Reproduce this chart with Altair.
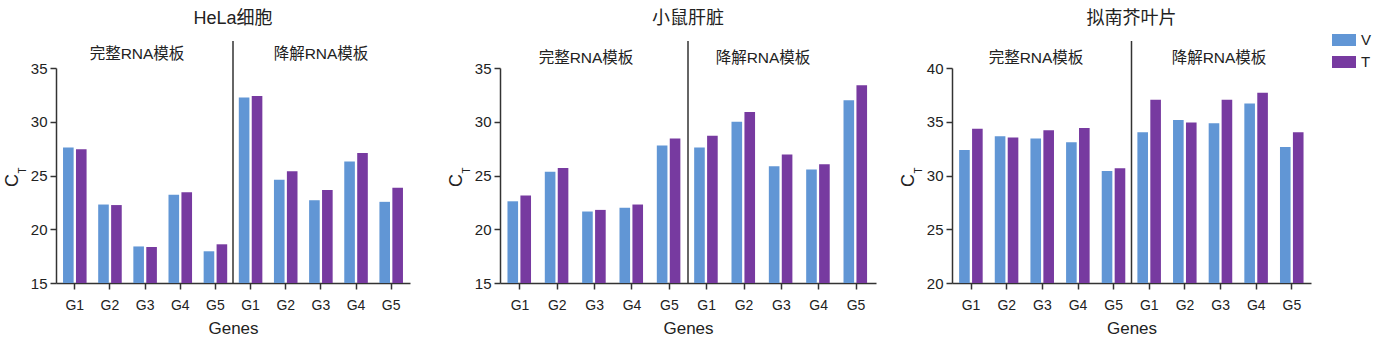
import altair as alt
import pandas as pd

# ---------------- data ----------------
genes = ["G1", "G2", "G3", "G4", "G5"]
groups = ["完整RNA模板", "降解RNA模板"]
series = ["V", "T"]
panel_titles = ["HeLa细胞", "小鼠肝脏", "拟南芥叶片"]

hela_V = [27.6, 22.3, 18.4, 23.2, 17.95, 32.25, 24.6, 22.7, 26.3, 22.55]
hela_T = [27.45, 22.25, 18.35, 23.45, 18.6, 32.4, 25.4, 23.65, 27.1, 23.85]
liver_V = [22.6, 25.35, 21.65, 22.0, 27.8, 27.6, 30.0, 25.85, 25.55, 32.0]
liver_T = [23.15, 25.7, 21.8, 22.3, 28.45, 28.7, 30.9, 26.95, 26.05, 33.4]
arab_V = [32.37, 33.66, 33.45, 33.1, 30.43, 34.03, 35.17, 34.86, 36.7, 32.65]
arab_T = [34.34, 33.54, 34.2, 34.43, 30.68, 37.05, 34.92, 37.05, 37.7, 34.03]

y_domains = [[15, 35], [15, 35], [20, 40]]
y_ticks = [[15, 20, 25, 30, 35], [15, 20, 25, 30, 35], [20, 25, 30, 35, 40]]

BLUE = "#6196D5"
PURPLE = "#773AA0"
AXIS = "#333333"
TXT = "#222222"
FONT = "Liberation Sans, Arial, Noto Sans CJK SC"

keys = [f"{g}|{gene}" for g in groups for gene in genes]

H = 215
TOP = -40


def make_df(V, T):
    rows = []
    for i, k in enumerate(keys):
        rows.append({"key": k, "series": "V", "value": V[i]})
        rows.append({"key": k, "series": "T", "value": T[i]})
    return pd.DataFrame(rows)


one = pd.DataFrame({"a": [0]})


def make_panel(idx, V, T, width, lab_left, lab_right, lab_y, extra_right=0, legend=False):
    df = make_df(V, T)
    if legend:
        leg = alt.Legend(
            title=None, orient="none", legendX=width + 21, legendY=TOP,
            symbolType="M-1,-0.5H1V0.5H-1Z", symbolSize=576,
            symbolStrokeWidth=0, labelFontSize=15, labelFont=FONT,
            labelColor=TXT, rowPadding=2, labelOffset=5, padding=0,
        )
    else:
        leg = None
    bars = alt.Chart(df).mark_bar().encode(
        x=alt.X(
            "key:N", sort=keys, title="Genes",
            scale=alt.Scale(paddingInner=0.33),
            axis=alt.Axis(
                labelExpr="split(datum.label, '|')[1]", labelAngle=0,
                labelFontSize=14, labelFont=FONT, labelColor=TXT,
                labelPadding=9, tickSize=6, tickColor=AXIS, tickWidth=1.5,
                domainColor=AXIS, domainWidth=1.5,
                titleFontSize=17, titleFont=FONT, titleColor=TXT,
                titleFontWeight="normal", titlePadding=8,
            ),
        ),
        xOffset=alt.XOffset("series:N", sort=series,
                            scale=alt.Scale(paddingInner=0.18, paddingOuter=0)),
        y=alt.Y(
            "value:Q", title=None,
            scale=alt.Scale(domain=y_domains[idx], zero=False, nice=False),
            axis=alt.Axis(
                values=y_ticks[idx], labelFontSize=15, labelFont=FONT,
                labelColor=TXT, labelPadding=3, tickSize=6, tickColor=AXIS,
                tickWidth=1.5, domainColor=AXIS, domainWidth=1.5, grid=False,
            ),
        ),
        y2=alt.Y2(datum=y_domains[idx][0]),
        color=alt.Color("series:N", scale=alt.Scale(domain=series, range=[BLUE, PURPLE]),
                        legend=leg),
    )
    divider = alt.Chart(one).mark_rule(color=AXIS, strokeWidth=1.5).encode(
        x=alt.value(width / 2), y=alt.value(-27), y2=alt.value(H)
    )
    t_left = alt.Chart(one).mark_text(
        text=groups[0], fontSize=15.5, font=FONT, color=TXT, baseline="middle"
    ).encode(x=alt.value(lab_left), y=alt.value(lab_y))
    t_right = alt.Chart(one).mark_text(
        text=groups[1], fontSize=15.5, font=FONT, color=TXT, baseline="middle"
    ).encode(x=alt.value(lab_right), y=alt.value(lab_y))
    c_txt = alt.Chart(one).mark_text(
        text="C", fontSize=18, font=FONT, color=TXT, angle=270, baseline="middle"
    ).encode(x=alt.value(-43), y=alt.value(H / 2 + 5))
    t_txt = alt.Chart(one).mark_text(
        text="T", fontSize=10, font=FONT, color=TXT, angle=270, baseline="middle"
    ).encode(x=alt.value(-33.5), y=alt.value(H / 2 - 5))
    # invisible spacer so every panel has the same top extent
    top_spacer = alt.Chart(one).mark_rule(strokeOpacity=0).encode(
        x=alt.value(width / 2), y=alt.value(TOP), y2=alt.value(TOP + 1)
    )
    layers = [bars, divider, t_left, t_right, c_txt, t_txt, top_spacer]
    if extra_right:
        spacer = alt.Chart(one).mark_rule(strokeOpacity=0).encode(
            x=alt.value(width + extra_right), y=alt.value(0), y2=alt.value(1)
        )
        layers.append(spacer)
    return alt.layer(*layers).properties(
        width=width, height=H,
        title=alt.TitleParams(panel_titles[idx], fontSize=18, font=FONT, color=TXT,
                              fontWeight="normal", anchor="middle", offset=0),
    )


p1 = make_panel(0, hela_V, hela_T, 354, 81, 265, -14, extra_right=14)
p2 = make_panel(1, liver_V, liver_T, 376, 86, 263, -10)
p3 = make_panel(2, arab_V, arab_T, 359, 84, 267, -10, legend=True)

chart = alt.hconcat(p1, p2, p3, spacing=24).resolve_scale(
    color="independent"
).properties(
    padding={"left": 4, "top": 10, "right": 0, "bottom": 0}
).configure_view(stroke=None)

chart.save("out.html", embed_options={"renderer": "svg", "actions": False})
